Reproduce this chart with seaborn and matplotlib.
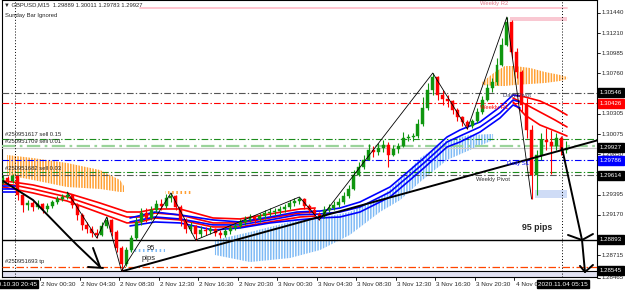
import numpy as np
import matplotlib
matplotlib.use("Agg")
import matplotlib.pyplot as plt
import matplotlib.transforms as mtransforms
import seaborn as sns

# ---------------- data (GBPUSD, 30-minute bars) ----------------
open_first = 1.29540
close = [
 1.29585,1.29552,1.29608,1.29394,1.29282,1.29304,1.29259,1.29293,1.29237,1.29271,
 1.29316,1.29349,1.29372,1.29394,1.29282,1.29170,1.29058,1.29012,1.28967,1.28945,
 1.29046,1.29114,1.28979,1.28799,1.28619,1.28776,1.28911,1.29091,1.29192,1.29136,
 1.29226,1.29293,1.29271,1.29361,1.29383,1.29259,1.29114,1.29012,1.29046,1.28956,
 1.29001,1.28990,1.29012,1.28967,1.28945,1.28990,1.29024,1.29046,1.29091,1.29114,
 1.29147,1.29125,1.29158,1.29192,1.29203,1.29214,1.29237,1.29259,1.29304,1.29327,
 1.29349,1.29271,1.29226,1.29181,1.29158,1.29226,1.29248,1.29282,1.29316,1.29383,
 1.29462,1.29619,1.29709,1.29788,1.29900,1.29877,1.29922,1.29956,1.29844,1.29911,
 1.29945,1.30035,1.30046,1.30057,1.30192,1.30372,1.30574,1.30721,1.30518,1.30473,
 1.30451,1.30350,1.30271,1.30215,1.30170,1.30226,1.30327,1.30462,1.30597,1.30664,
 1.30855,1.31080,1.31339,1.31002,1.30777,1.30406,1.30125,1.29619,1.29844,1.30012,
 1.29990,1.29945,1.30035,1.29900,1.29927]
high = [
 1.29619,1.29608,1.29630,1.29608,1.29383,1.29338,1.29327,1.29338,1.29304,1.29304,
 1.29338,1.29383,1.29405,1.29428,1.29405,1.29304,1.29192,1.29091,1.29046,1.29012,
 1.29091,1.29147,1.29125,1.29001,1.28821,1.28810,1.28945,1.29147,1.29248,1.29248,
 1.29271,1.29338,1.29349,1.29405,1.29417,1.29394,1.29282,1.29136,1.29091,1.29058,
 1.29046,1.29035,1.29046,1.29024,1.29001,1.29024,1.29058,1.29080,1.29125,1.29158,
 1.29181,1.29170,1.29192,1.29226,1.29248,1.29248,1.29271,1.29293,1.29338,1.29361,
 1.29372,1.29361,1.29293,1.29248,1.29203,1.29271,1.29293,1.29327,1.29361,1.29428,
 1.29507,1.29675,1.29765,1.29844,1.29967,1.29945,1.29979,1.30012,1.29990,1.29956,
 1.29979,1.30102,1.30080,1.30091,1.30248,1.30496,1.30653,1.30765,1.30732,1.30574,
 1.30518,1.30462,1.30372,1.30282,1.30237,1.30248,1.30372,1.30507,1.30642,1.30709,
 1.30934,1.31159,1.31395,1.31361,1.31046,1.30799,1.30484,1.30181,1.29900,1.30091,
 1.30147,1.30125,1.30091,1.30057,1.30001]
low = [
 1.29518,1.29518,1.29529,1.29338,1.29203,1.29226,1.29214,1.29237,1.29192,1.29203,
 1.29248,1.29293,1.29327,1.29349,1.29248,1.29114,1.29001,1.28967,1.28922,1.28911,
 1.28933,1.29024,1.28933,1.28754,1.28540,1.28596,1.28754,1.28888,1.29058,1.29091,
 1.29114,1.29203,1.29226,1.29248,1.29316,1.29226,1.29046,1.28967,1.28967,1.28888,
 1.28922,1.28945,1.28956,1.28933,1.28911,1.28922,1.28956,1.29001,1.29024,1.29058,
 1.29091,1.29080,1.29091,1.29125,1.29158,1.29170,1.29181,1.29203,1.29237,1.29271,
 1.29293,1.29237,1.29192,1.29147,1.29114,1.29136,1.29203,1.29226,1.29259,1.29293,
 1.29361,1.29450,1.29608,1.29686,1.29788,1.29821,1.29844,1.29877,1.29709,1.29832,
 1.29866,1.29934,1.30001,1.30001,1.30035,1.30170,1.30350,1.30518,1.30462,1.30406,
 1.30383,1.30305,1.30226,1.30170,1.30136,1.30147,1.30203,1.30305,1.30451,1.30552,
 1.30631,1.30844,1.31069,1.30934,1.30709,1.30327,1.30035,1.29349,1.29394,1.29788,
 1.29900,1.29630,1.29900,1.29844,1.29866]

# moving-average ribbons (bar index, three lines each)
red_a_x = [0.0, 2.02, 6.07, 12.96, 19.64, 25.1, 27.7, 30.77, 35.83, 42.51, 47.98, 54.05, 60.12, 63.2]
red_a_1 = [1.29552,1.29540,1.29507,1.29417,1.29304,1.29203,1.29203,1.29237,1.29237,1.29136,1.29125,1.29181,1.29237,1.29248]
red_a_2 = [1.29518,1.29507,1.29462,1.29372,1.29248,1.29147,1.29147,1.29192,1.29170,1.29080,1.29080,1.29136,1.29192,1.29203]
red_a_3 = [1.29484,1.29462,1.29417,1.29327,1.29192,1.29080,1.29091,1.29136,1.29114,1.29035,1.29035,1.29091,1.29147,1.29158]
red_b_x = [103.24, 105.67, 108.7, 111.74, 114.17]
red_b_1 = [1.30518,1.30496,1.30451,1.30372,1.30293]
red_b_2 = [1.30484,1.30417,1.30327,1.30237,1.30159]
red_b_3 = [1.30440,1.30293,1.30181,1.30114,1.30057]
blue_a_x = [0.0, 3.0]
blue_a_1 = [1.29495,1.29495]
blue_a_2 = [1.29462,1.29462]
blue_a_3 = [1.29428,1.29428]
blue_b_x = [25.71,30.77,35.83,42.51,47.98,54.05,59.51,64.17,68.22,72.27,78.34,82.39,85.43,89.88,92.51,96.56,100.61,103.24,104.66]
blue_b_1 = [1.29136,1.29203,1.29170,1.29114,1.29091,1.29147,1.29203,1.29214,1.29248,1.29316,1.29484,1.29675,1.29821,1.30046,1.30125,1.30215,1.30383,1.30518,1.30507]
blue_b_2 = [1.29091,1.29147,1.29125,1.29058,1.29058,1.29114,1.29170,1.29181,1.29203,1.29259,1.29428,1.29619,1.29765,1.29990,1.30057,1.30159,1.30316,1.30462,1.30440]
blue_b_3 = [1.29046,1.29091,1.29080,1.29001,1.29024,1.29080,1.29114,1.29136,1.29147,1.29203,1.29372,1.29563,1.29709,1.29934,1.29990,1.30102,1.30260,1.30406,1.30372]

# histogram clouds
org1_x = [0.81, 6.07, 12.96, 19.64, 23.68, 24.49]
org1_top = [1.29844,1.29810,1.29754,1.29675,1.29563,1.29495]
org1_bot = [1.29619,1.29563,1.29484,1.29462,1.29428,1.29428]
org2_x = [97.0, 99.6, 101.6, 103.6, 106.7, 109.7, 112.8, 114.2]
org2_top = [1.30664,1.30777,1.30844,1.30844,1.30822,1.30777,1.30743,1.30721]
org2_bot = [1.30631,1.30619,1.30619,1.30631,1.30642,1.30653,1.30676,1.30698]
org3_x = [32.8, 38.3]
org3_top = [1.29440, 1.29440]
org3_bot = [1.29410, 1.29410]
lb_x = [42.9, 50.0, 58.1, 64.2, 70.2, 76.3, 80.4, 84.4, 89.9, 94.5, 99.2]
lb_top = [1.28888,1.28978,1.29091,1.29136,1.29203,1.29361,1.29563,1.29810,1.30012,1.30069,1.30080]
lb_bot = [1.28720,1.28641,1.28686,1.28776,1.28945,1.29203,1.29338,1.29540,1.29788,1.29900,1.30012]
lb2_x = [25.7, 32.8]
lb2_top = [1.28790, 1.28790]
lb2_bot = [1.28755, 1.28755]

# zigzag swing bars (alternating high / low)
zigzag_bars = [13, 19, 21, 24, 34, 39, 60, 64, 87, 94, 102, 107]

# hand-drawn trend lines (bar, price)
trend_a_x = [0.0, 6.07, 12.96, 14.98, 19.64]
trend_a_y = [1.29552, 1.29338, 1.28945, 1.28832, 1.28585]
arrow_a1_x = [18.22, 19.64]; arrow_a1_y = [1.28799, 1.28585]
arrow_a2_x = [17.21, 20.24]; arrow_a2_y = [1.28585, 1.28574]
trend_b_x = [24.29, 121.0]
trend_b_y = [1.28540, 1.30019]
trend_c_x = [113.16, 117.21, 117.81]
trend_c_y = [1.29922, 1.28888, 1.28529]
arrow_c1_x = [114.37, 117.21, 119.43]; arrow_c1_y = [1.28945, 1.28888, 1.28956]
arrow_c2_x = [116.8, 117.81, 119.43]; arrow_c2_y = [1.28597, 1.28529, 1.28608]

# horizontal levels
weekly_r2 = 1.31496
daily_pivot = 1.30546
weekly_r1 = 1.30426
order_sell_015 = 1.30024
order_sell_001 = 1.29945
last_price = 1.29927
daily_s1 = 1.29786
order_sell_003 = 1.29648
weekly_pivot = 1.29614
support_1 = 1.28893
order_tp = 1.28585
support_2 = 1.28545
r2_box = (102.63, 114.17, 1.31350, 1.31395)
s_box = (107.69, 114.17, 1.29360, 1.29450)

axis_prices = [1.31440,1.31210,1.30985,1.30760,1.30305,1.30075,1.29850,1.29395,1.29170,1.28715,1.28465]
hl_prices = [1.30546, 1.30426, 1.29927, 1.29786, 1.29614, 1.28893, 1.28545]
hl_colors = ['black', '#ff0000', 'black', '#0000ff', 'black', 'black', 'black']

time_labels = ["2 Nov 00:30","2 Nov 04:30","2 Nov 08:30","2 Nov 12:30","2 Nov 16:30",
               "2 Nov 20:30","3 Nov 00:30","3 Nov 04:30","3 Nov 08:30","3 Nov 12:30",
               "3 Nov 16:30","3 Nov 20:30","4 Nov 00:30"]
first_tick_bar = 7.5
bars_per_tick = 8

# ---------------- figure ----------------
sns.set_style("white")
plt.rcParams['font.family'] = ['Liberation Sans', 'DejaVu Sans']
plt.rcParams['hatch.linewidth'] = 1.1

W, H = 625, 292
fig = plt.figure(figsize=(W / 100, H / 100), dpi=100)
fig.patch.set_facecolor('white')
ax = fig.add_axes([2 / W, 15 / H, 595 / W, 277 / H])
ax.set_xlim(-0.2024, 120.243)
ax.set_ylim(1.284725, 1.31586)
ax.set_xticks([]); ax.set_yticks([])
for s in ax.spines.values():
    s.set_color('black'); s.set_linewidth(0.8)

def fx(x):
    return x / W
def fy(y):
    return 1 - y / H

# clouds
ax.fill_between(org1_x, org1_bot, org1_top, facecolor='none', edgecolor='#ffa033', hatch='||||||', lw=0, zorder=2)
ax.fill_between(org2_x, org2_bot, org2_top, facecolor='none', edgecolor='#ffa033', hatch='||||||', lw=0, zorder=2)
ax.fill_between(org3_x, org3_bot, org3_top, facecolor='none', edgecolor='#ffa033', hatch='||||', lw=0, zorder=2)
ax.fill_between(lb_x, lb_bot, lb_top, facecolor='none', edgecolor='#7fbaf5', hatch='||||||', lw=0, zorder=2)
ax.fill_between(lb2_x, lb2_bot, lb2_top, facecolor='none', edgecolor='#7fbaf5', hatch='||||', lw=0, zorder=2)

# boxes and bands
ax.fill_between([r2_box[0], r2_box[1]], r2_box[2], r2_box[3], color='#f9c8d2', lw=0, zorder=1)
ax.fill_between([s_box[0], s_box[1]], s_box[2], s_box[3], color='#cfdcf6', lw=0, zorder=1)
ax.axhspan(1.284725, 1.28535, color='#e2e2f2', lw=0, zorder=1)

dd = (0, (6, 2, 1.2, 2))
ax.plot([27.7, 114.17], [weekly_r2, weekly_r2], color='#ffc0cb', lw=1.3, zorder=1)
ax.axhline(daily_pivot, color='#555555', lw=0.8, ls=dd, zorder=3)
ax.axhline(weekly_r1, color='#ff0000', lw=0.8, ls=dd, zorder=3)
ax.axhline(order_sell_015, color='#1c8c1c', lw=0.8, ls=dd, zorder=3)
ax.axhline(order_sell_001, color='#9ad49a', lw=1.6, ls=dd, zorder=3)
ax.axhline(last_price, color='#c8c8c8', lw=0.8, zorder=3)
ax.axhline(daily_s1, color='#0000ff', lw=0.8, ls=dd, zorder=3)
ax.axhline(order_sell_003, color='#1c8c1c', lw=0.8, ls=dd, zorder=3)
ax.axhline(weekly_pivot, color='#555555', lw=0.8, ls=dd, zorder=3)
ax.axhline(support_1, color='black', lw=1.0, zorder=3)
ax.axhline(order_tp, color='#ff4500', lw=0.9, ls=dd, zorder=3)
ax.axhline(support_2, color='black', lw=0.8, zorder=3)

ax.axvline(2.43, color='black', lw=0.7, ls=(0, (1, 2)), zorder=4)
ax.axvline(113.16, color='black', lw=0.7, ls=(0, (1, 2)), zorder=4)

# ribbons
for xs, ys, col in [(red_a_x, red_a_1, '#ff0000'), (red_a_x, red_a_2, '#ff0000'), (red_a_x, red_a_3, '#ff0000'),
                    (red_b_x, red_b_1, '#ff0000'), (red_b_x, red_b_2, '#ff0000'), (red_b_x, red_b_3, '#ff0000'),
                    (blue_a_x, blue_a_1, '#0000ff'), (blue_a_x, blue_a_2, '#0000ff'), (blue_a_x, blue_a_3, '#0000ff'),
                    (blue_b_x, blue_b_1, '#0000ff'), (blue_b_x, blue_b_2, '#0000ff'), (blue_b_x, blue_b_3, '#0000ff')]:
    sns.lineplot(x=xs, y=ys, ax=ax, color=col, lw=1.2, sort=False, estimator=None, zorder=4)

# candles
close_a = np.array(close); high_a = np.array(high); low_a = np.array(low)
opens = np.r_[open_first, close_a[:-1]]
idx = np.arange(len(close_a))
up = close_a >= opens
cols = np.where(up, '#0f960f', '#ff0000')
ax.vlines(idx, low_a, high_a, colors=cols, lw=0.8, zorder=5)
ax.bar(idx, np.maximum(np.abs(close_a - opens), 0.00004), bottom=np.minimum(opens, close_a),
       width=0.6, color=cols, edgecolor=cols, lw=0.3, zorder=6)

# zigzag
zz_y = [high_a[b] if k % 2 == 0 else low_a[b] for k, b in enumerate(zigzag_bars)]
sns.lineplot(x=zigzag_bars, y=zz_y, ax=ax, color='black', lw=0.6, sort=False, estimator=None, zorder=7)

# trend lines
for xs, ys in [(trend_a_x, trend_a_y), (arrow_a1_x, arrow_a1_y), (arrow_a2_x, arrow_a2_y),
               (trend_b_x, trend_b_y), (trend_c_x, trend_c_y), (arrow_c1_x, arrow_c1_y), (arrow_c2_x, arrow_c2_y)]:
    sns.lineplot(x=xs, y=ys, ax=ax, color='black', lw=1.4, sort=False, estimator=None, zorder=8)

# texts in chart
fs = 4.2
fig.text(fx(4), fy(5), "\u25bc GBPUSD,M15  1.29889 1.30011 1.29783 1.29927", fontsize=fs, va='center', ha='left',
         family=['Liberation Sans', 'DejaVu Sans'])
fig.text(fx(5), fy(16), "Sunday Bar Ignored", fontsize=fs, va='center', ha='left')
fig.text(fx(5), fy(134.5), "#250951617 sell 0.15", fontsize=fs, va='center', ha='left')
fig.text(fx(5), fy(142), "#250951709 sell 0.01", fontsize=fs, va='center', ha='left')
fig.text(fx(5), fy(168), "#250951682 sell 0.03", fontsize=fs, va='center', ha='left')
fig.text(fx(5), fy(262), "#250951693 tp", fontsize=fs, va='center', ha='left')
fig.text(fx(480), fy(3), "Weekly R2", fontsize=fs, va='center', ha='left', color='#e07a8a')
fig.text(fx(503), fy(96), "Daily Pivot", fontsize=fs, va='center', ha='left', color='#404060')
fig.text(fx(480), fy(107), "Weekly R1", fontsize=fs, va='center', ha='left', color='#ff0000')
fig.text(fx(507), fy(164), "Daily S1", fontsize=fs, va='center', ha='left', color='#0000ff')
fig.text(fx(476), fy(180), "Weekly Pivot", fontsize=fs, va='center', ha='left', color='#333333')
fig.text(fx(147), fy(248), "95", fontsize=5.4, va='center', ha='left')
fig.text(fx(142), fy(258), "pips", fontsize=5.4, va='center', ha='left')
fig.text(fx(522), fy(228), "95 pips", fontsize=6.3, va='center', ha='left', fontweight='bold')

# right price axis
trans_r = mtransforms.blended_transform_factory(ax.transAxes, ax.transData)
narrow = ['Liberation Sans Narrow', 'Liberation Sans', 'DejaVu Sans']
for p in axis_prices:
    ax.plot([1, 1 + 3 / 595], [p, p], transform=trans_r, color='black', lw=0.6, clip_on=False)
    ax.text(1 + 5 / 595, p, f"{p:.5f}", transform=trans_r, fontsize=4.4, va='center', ha='left',
            family=narrow, clip_on=False)
for p, c in zip(hl_prices, hl_colors):
    ax.text(1 + 3 / 595, p, f"{p:.5f}", transform=trans_r, fontsize=4.4, va='center', ha='left',
            color='white', family=narrow, clip_on=False, zorder=20,
            bbox=dict(boxstyle='square,pad=0.35', fc=c, ec=c))

# bottom time axis
trans_b = mtransforms.blended_transform_factory(ax.transData, ax.transAxes)
for k, lab in enumerate(time_labels):
    xb = first_tick_bar + bars_per_tick * k
    ax.plot([xb, xb], [0, -3 / 277], transform=trans_b, color='black', lw=0.6, clip_on=False)
    ax.text(xb + 0.25, -7.5 / 277, lab, transform=trans_b, fontsize=4.6, va='center', ha='left', clip_on=False)
fig.text(fx(37), fy(284), "2020.10.30 20:45", fontsize=4.6, va='center', ha='right', color='white',
         bbox=dict(boxstyle='square,pad=0.2', fc='black', ec='black'), zorder=20)
fig.text(fx(538), fy(284), "2020.11.04 05:15", fontsize=4.6, va='center', ha='left', color='white',
         bbox=dict(boxstyle='square,pad=0.2', fc='black', ec='black'), zorder=20)

fig.savefig("out.png", dpi=100, facecolor='white')
